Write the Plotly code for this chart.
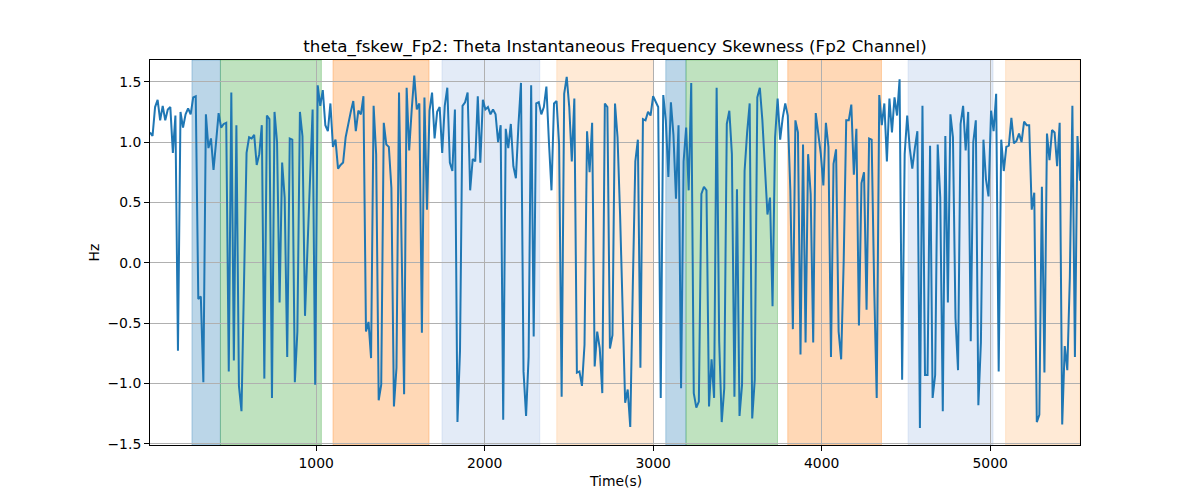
import plotly.graph_objects as go

# ---- data ----
t_start = 14.0
t_step = 15.08

fskew = [
    # ~14 - 920 s
    1.08, 1.05, 1.29, 1.35, 1.18, 1.30, 1.18, 1.27, 1.29, 0.91,
    1.22, -0.73, 1.25, 1.12, 1.23, 1.28, 1.23, 1.37, 1.38, -0.30,
    -0.28, -0.99, 1.23, 0.95, 1.03, 0.77, 1.00, 1.24, 1.12, 1.15,
    1.16, -0.90, 1.41, -0.81, 1.14, -1.02, -1.23, -0.15, 0.91, 1.04,
    1.03, 1.06, 0.81, 0.90, 1.14, -0.96, 1.22, 1.19, -1.12, 1.25,
    1.00, -0.33, 0.83, 0.54, -0.78, 1.03, 1.02, -0.99, -0.57, 1.25,
    1.05,
    # ~935 - 1825 s
    -0.44, 0.10, 0.70, 1.27, -1.01, 1.47, 1.30, 1.43, 1.14, 1.09,
    1.32, 0.96, 1.02, 0.78, 0.81, 0.83, 1.04, 1.16, 1.25, 1.34,
    1.09, 1.26, 1.23, 1.38, -0.57, -0.49, -0.79, 1.30, 0.90, -1.14,
    -1.01, 1.16, 0.98, 0.96, 0.62, -1.19, -0.87, 1.41, 0.26, -1.09,
    1.45, 0.93, 1.27, 1.55, 1.27, 1.32, -0.58, 1.37, 0.44, 1.26,
    1.41, 1.03, 1.25, 1.29, 0.91, 1.30, 1.45, 0.83, 0.76, 1.27,
    # ~1840 - 2730 s
    -1.32, -0.73, 1.30, 1.33, 1.41, 0.60, 0.86, 0.84, 1.38, 0.83,
    1.35, 1.27, 1.29, 1.23, 1.27, 1.23, 1.00, 1.14, -1.30, 1.11,
    0.95, 1.15, 0.80, 0.70, 1.14, 1.49, -0.90, -1.27, -0.78, 1.47,
    -0.61, 1.32, 1.33, 1.23, 1.29, 1.46, 1.00, 0.60, 1.32, 1.34,
    0.98, -1.11, 1.40, 1.54, 1.29, 0.84, 1.36, -0.91, -0.90, -1.02,
    -0.68, 1.09, 0.75, 1.16, -0.86, -0.57, -0.71, -1.08, 1.32, 1.29,
    # ~2745 - 3680 s
    -0.71, -0.60, 1.32, 1.04, 0.40, -0.50, -1.16, -1.05, -1.36, -0.20,
    0.84, 1.02, -0.87, 1.19, 1.18, 1.25, 1.22, 1.38, 1.34, 1.29,
    -1.12, 1.39, 1.18, 0.71, 1.33, 1.06, 0.53, 1.14, -1.04, 0.84,
    1.12, 0.60, 1.49, -1.08, -1.20, -1.15, 0.57, 0.63, 0.60, -1.19,
    -0.80, -1.12, 1.45, -0.65, -1.32, -1.04, 1.15, 1.26, 0.90, -1.11,
    0.61, -1.27, -1.01, 0.76, 1.08, 1.32, -1.29, -0.97, 1.37, 1.45,
    1.18, 0.82, 0.40,
    # ~3695 - 4570 s
    0.54, -0.36, 1.04, 1.36, 1.02, 1.20, 1.32, 1.22, 0.60, -0.55,
    1.18, 1.08, -0.76, 0.98, -0.66, 0.90, 0.57, -0.66, 1.24, 1.07,
    0.90, 0.64, 1.16, 0.96, -0.78, 0.82, 0.94, -0.57, -0.80, 0.01,
    1.18, 1.18, 1.31, 0.73, 1.11, -0.52, 0.66, 0.75, -0.39, 1.03,
    1.02, -0.20, -1.12, 1.39, 1.14, 1.32, 0.84, 1.36, 1.08, 1.37,
    1.22, 1.52, -0.97, 0.90, 1.22, 0.95, 0.78, 0.95, 1.09,
    # ~4585 - 5533 s
    -1.37, 1.30, -0.93, -0.93, 0.97, -1.12, -0.93, 0.98, 0.54, -1.23,
    1.05, -0.33, 1.23, 1.04, -0.46, -0.89, 1.15, 1.30, 0.93, 1.25,
    -0.65, 1.00, 1.18, -1.18, -0.66, 1.02, 0.69, 0.55, 1.26, 1.09,
    1.40, -0.90, 1.02, 0.76, 0.96, 0.97, 1.20, 0.99, 1.01, 1.07,
    1.00, 1.17, 1.14, 1.14, 0.44, 0.58, -1.32, -1.26, 0.63, -0.91,
    1.07, 0.85, 1.10, 1.08, 0.80, 1.16, -1.34, -0.69, -0.89, -0.12,
    1.30, -0.78, 1.05, 0.68,
]

time_s = [t_start + t_step * i for i in range(len(fskew))]

# shaded segments (start, end, kind)
seg_start = [263, 432, 1100, 1747, 2428, 3075, 3195, 3799, 4513, 5092]
seg_end = [432, 1031, 1670, 2327, 3002, 3195, 3738, 4355, 5017, 5540]
seg_kind = ["blue", "green", "orange", "lightblue", "peach",
            "blue", "green", "orange", "lightblue", "peach"]

x_ticks = [1000, 2000, 3000, 4000, 5000]
y_ticks = [-1.5, -1.0, -0.5, 0.0, 0.5, 1.0, 1.5]

kind_fill = {
    "blue": "rgba(31,119,180,0.30)",
    "green": "rgba(44,160,44,0.30)",
    "orange": "rgba(255,127,14,0.30)",
    "lightblue": "rgba(174,199,232,0.35)",
    "peach": "rgba(255,187,120,0.30)",
}

x_min, x_max = time_s[0], time_s[-1]

fig = go.Figure()
fig.add_trace(go.Scatter(
    x=time_s, y=fskew, mode="lines",
    line=dict(color="#1f77b4", width=2),
    showlegend=False, hoverinfo="skip",
))

shapes = []
for s, e, k in zip(seg_start, seg_end, seg_kind):
    shapes.append(dict(
        type="rect", xref="x", yref="paper",
        x0=s, x1=min(e, x_max), y0=0, y1=1,
        fillcolor=kind_fill[k],
        line=dict(color=kind_fill[k], width=1),
        layer="below",
    ))

font = "DejaVu Sans, Liberation Sans, sans-serif"

# the page body adds an 8px offset; compensate in the margins
fig.update_layout(
    width=1200, height=500,
    margin=dict(l=142, r=128, t=52, b=63, pad=0),
    paper_bgcolor="white", plot_bgcolor="white",
    font=dict(family=font, size=13.9, color="black"),
    shapes=shapes,
    title=dict(
        text="theta_fskew_Fp2: Theta Instantaneous Frequency Skewness (Fp2 Channel)",
        x=0.5, xref="paper", xanchor="center",
        y=1 - 38 / 500, yref="container", yanchor="middle",
        font=dict(family=font, size=16.7, color="black"),
    ),
    xaxis=dict(
        range=[x_min, x_max], tickvals=x_ticks,
        showgrid=True, gridcolor="#b0b0b0", gridwidth=1,
        showline=True, linecolor="black", linewidth=1, mirror=True,
        ticks="outside", ticklen=5, tickcolor="black", tickwidth=1,
        zeroline=False, tickfont=dict(size=13.9),
    ),
    yaxis=dict(
        range=[-1.51, 1.68], tickvals=y_ticks, tickformat=".1f",
        showgrid=True, gridcolor="#b0b0b0", gridwidth=1,
        showline=True, linecolor="black", linewidth=1, mirror=True,
        ticks="outside", ticklen=5, tickcolor="black", tickwidth=1,
        zeroline=False, tickfont=dict(size=13.9),
    ),
    annotations=[
        dict(text="Time(s)", xref="paper", yref="paper", x=0.5, y=-0.0,
             yshift=-36, xanchor="center", yanchor="middle", showarrow=False,
             font=dict(family=font, size=13.9, color="black")),
        dict(text="Hz", xref="paper", yref="paper", x=0, y=0.5,
             xshift=-57, xanchor="center", yanchor="middle", showarrow=False,
             textangle=-90, font=dict(family=font, size=13.9, color="black")),
    ],
)

fig.write_html("out.html")
